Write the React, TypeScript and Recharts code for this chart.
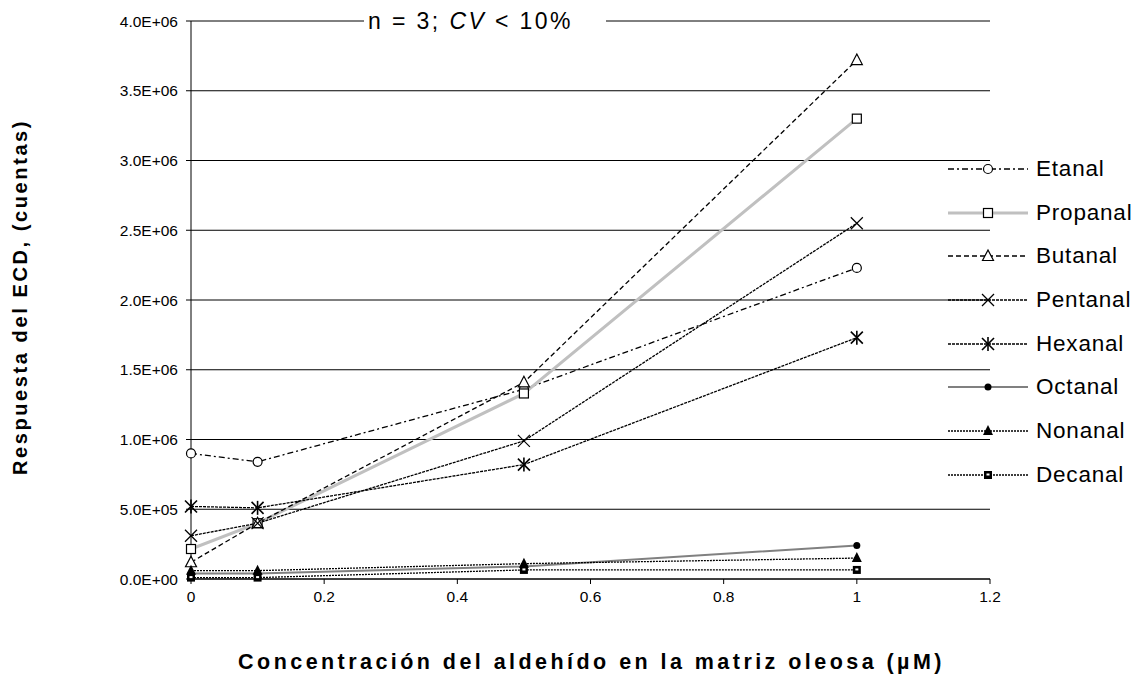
import { LineChart, Line, XAxis, YAxis, CartesianGrid, Legend, Label } from "recharts";

// Concentración (µM) en el eje X
const concentrations = [0, 0.1, 0.5, 1];

// Respuesta del ECD (cuentas) por aldehído
const etanal = [900000, 840000, 1360000, 2230000];
const propanal = [215000, 400000, 1330000, 3300000];
const butanal = [120000, 400000, 1410000, 3720000];
const pentanal = [310000, 400000, 990000, 2550000];
const hexanal = [520000, 510000, 820000, 1730000];
const octanal = [40000, 40000, 90000, 240000];
const nonanal = [60000, 60000, 110000, 150000];
const decanal = [10000, 10000, 65000, 65000];

const yTicks = [0, 500000, 1000000, 1500000, 2000000, 2500000, 3000000, 3500000, 4000000];
const xTicks = [0, 0.2, 0.4, 0.6, 0.8, 1, 1.2];

const FONT = "'Liberation Sans', Arial, sans-serif";

type Marker = "circle" | "square" | "triangle" | "x" | "star" | "dot" | "filledTriangle" | "filledSquare";

const series: { name: string; values: number[]; stroke: string; width: number; dash?: string; marker: Marker }[] = [
  { name: "Etanal", values: etanal, stroke: "#000", width: 1.3, dash: "6 3 2 3", marker: "circle" },
  { name: "Propanal", values: propanal, stroke: "#c0c0c0", width: 3, marker: "square" },
  { name: "Butanal", values: butanal, stroke: "#000", width: 1.3, dash: "5 3", marker: "triangle" },
  { name: "Pentanal", values: pentanal, stroke: "#000", width: 1.3, dash: "3 1", marker: "x" },
  { name: "Hexanal", values: hexanal, stroke: "#000", width: 1.3, dash: "3 1", marker: "star" },
  { name: "Octanal", values: octanal, stroke: "#808080", width: 2, marker: "dot" },
  { name: "Nonanal", values: nonanal, stroke: "#000", width: 1.3, dash: "2 1", marker: "filledTriangle" },
  { name: "Decanal", values: decanal, stroke: "#000", width: 1.3, dash: "2 1", marker: "filledSquare" },
];

const data = concentrations.map((c, i) => {
  const row: Record<string, number> = { x: c };
  series.forEach((s) => (row[s.name] = s.values[i]));
  return row;
});

const sci = (v: number) => {
  const [m, e] = v.toExponential(1).split("e");
  const n = parseInt(e, 10);
  return `${m}E${n < 0 ? "-" : "+"}${String(Math.abs(n)).padStart(2, "0")}`;
};

function drawMarker(kind: Marker, cx: number, cy: number, key?: string) {
  const k = { stroke: "#000", strokeWidth: 1.2 };
  switch (kind) {
    case "circle":
      return <circle key={key} cx={cx} cy={cy} r={4.5} fill="#fff" {...k} />;
    case "square":
      return <rect key={key} x={cx - 4.5} y={cy - 4.5} width={9} height={9} fill="#fff" {...k} />;
    case "triangle":
      return <polygon key={key} points={`${cx},${cy - 6} ${cx + 5.5},${cy + 4.5} ${cx - 5.5},${cy + 4.5}`} fill="#fff" {...k} />;
    case "x":
      return (
        <g key={key} {...k}>
          <line x1={cx - 6} y1={cy - 6} x2={cx + 6} y2={cy + 6} />
          <line x1={cx - 6} y1={cy + 6} x2={cx + 6} y2={cy - 6} />
        </g>
      );
    case "star":
      return (
        <g key={key} stroke="#000" strokeWidth={1.6}>
          <line x1={cx - 6} y1={cy - 6} x2={cx + 6} y2={cy + 6} />
          <line x1={cx - 6} y1={cy + 6} x2={cx + 6} y2={cy - 6} />
          <line x1={cx} y1={cy - 7} x2={cx} y2={cy + 7} />
        </g>
      );
    case "dot":
      return <circle key={key} cx={cx} cy={cy} r={3.5} fill="#000" />;
    case "filledTriangle":
      return <polygon key={key} points={`${cx},${cy - 6} ${cx + 5},${cy + 4} ${cx - 5},${cy + 4}`} fill="#000" />;
    case "filledSquare":
      return (
        <g key={key}>
          <rect x={cx - 4} y={cy - 4} width={8} height={8} fill="#000" />
          <rect x={cx - 1.5} y={cy - 1.5} width={3} height={2} fill="#fff" />
        </g>
      );
  }
}

function LegendBox() {
  return (
    <div style={{ fontFamily: FONT }}>
      {series.map((s) => (
        <div key={s.name} style={{ display: "flex", alignItems: "center", height: 43.7 }}>
          <svg width={92} height={20}>
            <line x1={4} y1={10} x2={84} y2={10} stroke={s.stroke} strokeWidth={s.width} strokeDasharray={s.dash} />
            {drawMarker(s.marker, 44, 10)}
          </svg>
          <span style={{ fontSize: 22.5, color: "#000", letterSpacing: 0.8 }}>{s.name}</span>
        </div>
      ))}
    </div>
  );
}

export default function App() {
  return (
    <div style={{ position: "absolute", left: 0, top: 0, width: 1147, height: 678, background: "#fff" }}>
      <LineChart width={1147} height={678} data={data} margin={{ top: 21, right: 157, left: 0, bottom: 0 }}>
        <CartesianGrid horizontal vertical={false} stroke="#000" strokeWidth={1} />
        <XAxis
          dataKey="x"
          type="number"
          domain={[0, 1.2]}
          ticks={xTicks}
          interval={0}
          height={99}
          stroke="#000"
          tickSize={5}
          tickMargin={7}
          tick={{ fill: "#000", fontSize: 15.5, fontFamily: FONT }}
        >
          <Label
            content={({ viewBox }: any) => (
              <text
                x={viewBox.x + viewBox.width / 2 + 1}
                y={669}
                textAnchor="middle"
                fontFamily={FONT}
                fontWeight="bold"
                fontSize={21.5}
                letterSpacing={3.45}
                fill="#000"
              >
                Concentración del aldehído en la matriz oleosa (µM)
              </text>
            )}
          />
        </XAxis>
        <YAxis
          type="number"
          domain={[0, 4000000]}
          ticks={yTicks}
          interval={0}
          width={191}
          stroke="#000"
          tickSize={5}
          tickMargin={8}
          tickFormatter={sci}
          tick={{ fill: "#000", fontSize: 15.5, fontFamily: FONT }}
        >
          <Label
            content={() => (
              <text
                x={27}
                y={297}
                textAnchor="middle"
                fontFamily={FONT}
                fontWeight="bold"
                fontSize={20}
                letterSpacing={2.6}
                fill="#000"
                transform="rotate(-90, 27, 297)"
              >
                Respuesta del  ECD, (cuentas)
              </text>
            )}
          />
        </YAxis>
        <Legend
          layout="vertical"
          align="center"
          verticalAlign="middle"
          content={() => <LegendBox />}
          wrapperStyle={{ left: 944, top: 147, width: 203 }}
        />
        {series.map((s) => (
          <Line
            key={s.name}
            type="linear"
            dataKey={s.name}
            stroke={s.stroke}
            strokeWidth={s.width}
            strokeDasharray={s.dash}
            isAnimationActive={false}
            dot={(p: any) => drawMarker(s.marker, p.cx, p.cy, `${s.name}-${p.index}`)}
            activeDot={false}
          />
        ))}
      </LineChart>
      <div
        style={{
          position: "absolute",
          left: 364,
          top: 7,
          width: 242,
          height: 28,
          background: "#fff",
          fontFamily: FONT,
          fontSize: 23,
          letterSpacing: 2.4,
          color: "#000",
          lineHeight: "28px",
          paddingLeft: 4,
          boxSizing: "border-box",
          whiteSpace: "nowrap",
        }}
      >
        n = 3;&nbsp;<i>CV</i> &lt; 10%
      </div>
    </div>
  );
}
